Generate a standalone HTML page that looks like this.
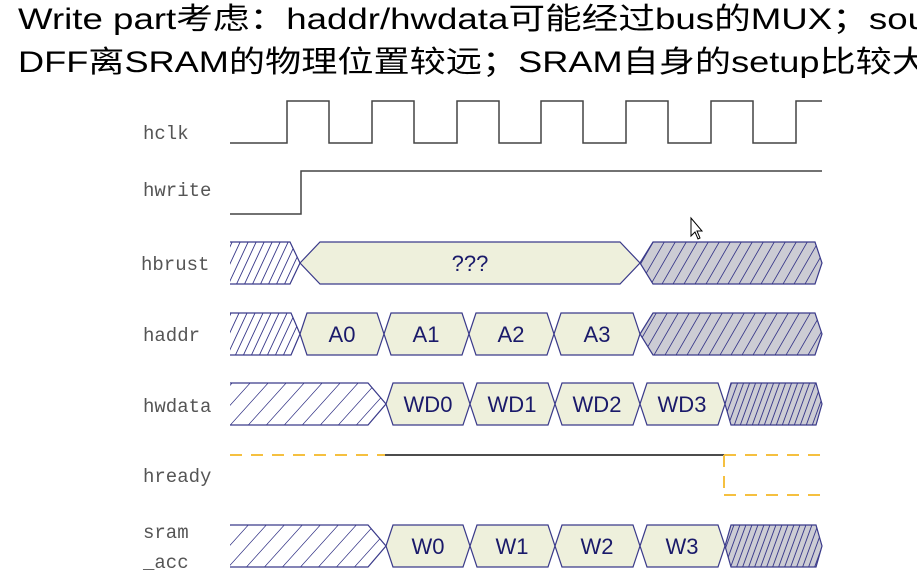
<!DOCTYPE html>
<html><head><meta charset="utf-8"><style>
html,body{margin:0;padding:0;background:#fff;width:917px;height:585px;overflow:hidden}
</style></head><body>
<svg width="917" height="585" viewBox="0 0 917 585" xmlns="http://www.w3.org/2000/svg">
<defs>
<pattern id="h1" width="8" height="60" patternUnits="userSpaceOnUse" patternTransform="skewX(-25)"><rect width="8" height="60" fill="#fff"/><line x1="1" y1="0" x2="1" y2="60" stroke="#3a3a8a" stroke-width="1"/></pattern>
<pattern id="h2" width="18" height="60" patternUnits="userSpaceOnUse" patternTransform="skewX(-42)"><rect width="18" height="60" fill="#fff"/><line x1="1" y1="0" x2="1" y2="60" stroke="#3a3a8a" stroke-width="1"/></pattern>
<pattern id="g1" width="11" height="60" patternUnits="userSpaceOnUse" patternTransform="skewX(-30)"><rect width="11" height="60" fill="#ccccd4"/><line x1="1" y1="0" x2="1" y2="60" stroke="#3a3a8a" stroke-width="1"/></pattern>
<pattern id="g2" width="6" height="60" patternUnits="userSpaceOnUse" patternTransform="skewX(-20)"><rect width="6" height="60" fill="#ccccd4"/><line x1="1" y1="0" x2="1" y2="60" stroke="#3a3a8a" stroke-width="1"/></pattern>
</defs>

<g font-family="'Liberation Sans','Noto Sans CJK SC',sans-serif" font-size="30" fill="#000">
<text x="18" y="29" textLength="910" lengthAdjust="spacingAndGlyphs">Write part考虑：haddr/hwdata可能经过bus的MUX；sou</text>
<text x="18" y="72" textLength="910" lengthAdjust="spacingAndGlyphs">DFF离SRAM的物理位置较远；SRAM自身的setup比较大</text>
</g>

<g font-family="'Liberation Mono','Noto Serif CJK SC',monospace" font-size="19" fill="#555">
<text x="143" y="139">hclk</text>
<text x="143" y="196">hwrite</text>
<text x="141" y="270">hbrust</text>
<text x="143" y="341">haddr</text>
<text x="143" y="412">hwdata</text>
<text x="143" y="482">hready</text>
<text x="143" y="538">sram</text>
<text x="143" y="568">_acc</text>
</g>

<g fill="none" stroke="#444" stroke-width="1.5">
<polyline points="230,143 287,143 287,101 329,101 329,143 372,143 372,101 414,101 414,143 457,143 457,101 499,101 499,143 541,143 541,101 583,101 583,143 626,143 626,101 668,101 668,143 711,143 711,101 753,101 753,143 796,143 796,101 822,101"/>
<polyline points="230,214 301,214 301,171 822,171"/>
</g>

<g stroke="#3a3a8a" stroke-width="1.2">
<polygon points="230,242 290,242 300,263 290,284 230,284" fill="url(#h1)" stroke="none"/>
<polyline points="230,242 290,242 300,263 290,284 230,284" fill="none"/>
<polygon points="300,263 320,242 620,242 640,263 620,284 320,284" fill="#eef0dc"/>
<polygon points="640,263 653,242 815,242 822,263 815,284 653,284" fill="url(#g1)"/>
<polygon points="230,313 291,313 300,334 291,355 230,355" fill="url(#h1)" stroke="none"/>
<polyline points="230,313 291,313 300,334 291,355 230,355" fill="none"/>
<polygon points="300,334 307,313 377,313 384,334 377,355 307,355" fill="#eef0dc"/>
<polygon points="384,334 391,313 462,313 469,334 462,355 391,355" fill="#eef0dc"/>
<polygon points="469,334 476,313 547,313 554,334 547,355 476,355" fill="#eef0dc"/>
<polygon points="554,334 561,313 633,313 640,334 633,355 561,355" fill="#eef0dc"/>
<polygon points="640,334 653,313 815,313 822,334 815,355 653,355" fill="url(#g1)"/>
<polygon points="230,383 368,383 386,404 368,425 230,425" fill="url(#h2)" stroke="none"/>
<polyline points="230,383 368,383 386,404 368,425 230,425" fill="none"/>
<polygon points="386,404 393,383 463,383 470,404 463,425 393,425" fill="#eef0dc"/>
<polygon points="470,404 477,383 548,383 555,404 548,425 477,425" fill="#eef0dc"/>
<polygon points="555,404 562,383 633,383 640,404 633,425 562,425" fill="#eef0dc"/>
<polygon points="640,404 647,383 718,383 725,404 718,425 647,425" fill="#eef0dc"/>
<polygon points="725,404 731,383 816,383 822,404 816,425 731,425" fill="url(#g2)"/>
<polygon points="230,525 368,525 386,546 368,567 230,567" fill="url(#h2)" stroke="none"/>
<polyline points="230,525 368,525 386,546 368,567 230,567" fill="none"/>
<polygon points="386,546 393,525 463,525 470,546 463,567 393,567" fill="#eef0dc"/>
<polygon points="470,546 477,525 548,525 555,546 548,567 477,567" fill="#eef0dc"/>
<polygon points="555,546 562,525 633,525 640,546 633,567 562,567" fill="#eef0dc"/>
<polygon points="640,546 647,525 718,525 725,546 718,567 647,567" fill="#eef0dc"/>
<polygon points="725,546 731,525 816,525 822,546 816,567 731,567" fill="url(#g2)"/>
</g>

<g fill="none" stroke-width="2">
<line x1="230" y1="455" x2="385" y2="455" stroke="#f5c040" stroke-dasharray="12,9"/>
<line x1="385" y1="455" x2="724" y2="455" stroke="#111" stroke-width="1.5"/>
<line x1="724" y1="455" x2="822" y2="455" stroke="#f5c040" stroke-dasharray="12,9"/>
<line x1="724" y1="455" x2="724" y2="495" stroke="#f5c040" stroke-dasharray="12,9"/>
<line x1="724" y1="495" x2="822" y2="495" stroke="#f5c040" stroke-dasharray="12,9"/>
</g>

<g font-family="'Liberation Sans',sans-serif" font-size="22" fill="#1a1a6a" text-anchor="middle">
<text x="470" y="271">???</text>
<text x="342" y="342">A0</text>
<text x="426" y="342">A1</text>
<text x="511" y="342">A2</text>
<text x="597" y="342">A3</text>
<text x="428" y="412">WD0</text>
<text x="512" y="412">WD1</text>
<text x="597" y="412">WD2</text>
<text x="682" y="412">WD3</text>
<text x="428" y="554">W0</text>
<text x="512" y="554">W1</text>
<text x="597" y="554">W2</text>
<text x="682" y="554">W3</text>
</g>

<path d="M691,218 L691,236 L695,232 L698,239 L700,238 L697,231 L702,231 Z" fill="#fff" stroke="#000" stroke-width="1"/>
</svg>
</body></html>
